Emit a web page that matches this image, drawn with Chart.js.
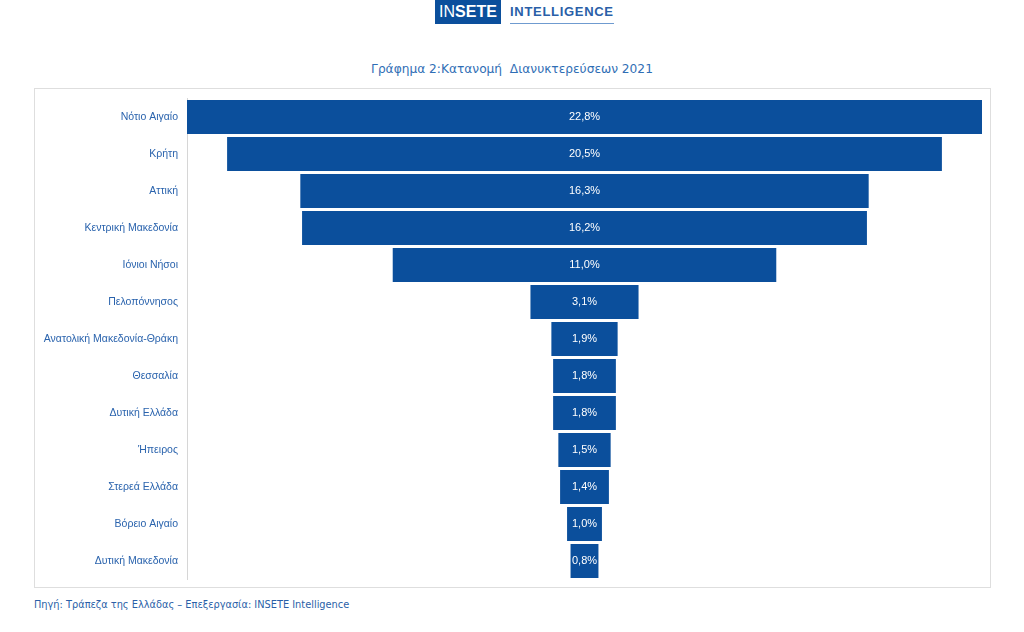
<!DOCTYPE html>
<html>
<head>
<meta charset="utf-8">
<script src="https://cdn.jsdelivr.net/npm/chart.js@4/dist/chart.umd.min.js"></script>
<style>
  body { margin: 0; background: #fff; width: 1024px; height: 632px; position: relative; overflow: hidden; font-family: "Liberation Sans", Arial, sans-serif; }
  #logo-box { position: absolute; left: 435px; top: 0; width: 66px; height: 24px; background: #0b4f9c; color: #fff; font-size: 16px; line-height: 24px; text-align: center; }
  #logo-box b { font-weight: bold; }
  #logo-text { position: absolute; left: 510px; top: 4px; color: #2a5fa8; font-size: 13px; font-weight: bold; letter-spacing: 0.7px; }
  #logo-line { position: absolute; left: 510px; top: 23px; width: 104px; height: 1px; background: #6f9bd0; }
  #titel { position: absolute; left: 0; width: 1024px; top: 62px; text-align: center; color: #2f6eb5; font-family: "DejaVu Sans", sans-serif; font-size: 12.2px; }
  #rahmen { position: absolute; left: 34px; top: 88px; width: 955px; height: 498px; border: 1px solid #dedede; }
  #rahmen canvas { position: absolute; left: 0; top: 0; }
  #quelle { position: absolute; left: 34px; top: 599px; color: #2a5fa8; font-family: "DejaVu Sans", sans-serif; font-size: 9.8px; }
</style>
</head>
<body>
<div id="logo-box">IN<b>SETE</b></div>
<div id="logo-text">INTELLIGENCE</div>
<div id="logo-line"></div>
<div id="titel">Γράφημα 2:Κατανομή&nbsp;&nbsp;Διανυκτερεύσεων 2021</div>
<div id="rahmen"><canvas id="funnel"></canvas></div>
<div id="quelle">Πηγή: Τράπεζα της Ελλάδας – Επεξεργασία: INSETE Intelligence</div>
<script>
// Daten: Regionen und Anteil an den Übernachtungen (%)
const regionen = [
  'Νότιο Αιγαίο', 'Κρήτη', 'Αττική', 'Κεντρική Μακεδονία', 'Ιόνιοι Νήσοι',
  'Πελοπόννησος', 'Ανατολική Μακεδονία-Θράκη', 'Θεσσαλία', 'Δυτική Ελλάδα',
  'Ήπειρος', 'Στερεά Ελλάδα', 'Βόρειο Αιγαίο', 'Δυτική Μακεδονία'
];
const anteile = [22.8, 20.5, 16.3, 16.2, 11.0, 3.1, 1.9, 1.8, 1.8, 1.5, 1.4, 1.0, 0.8];

const blau = '#0b4f9c';
const halb = Math.max(...anteile) / 2;

function format(wert) {
  return wert.toFixed(1).replace('.', ',') + '%';
}

// Plugin: Prozentwerte mittig in die Balken schreiben
const werteLabels = {
  id: 'werteLabels',
  afterDatasetsDraw: function (chart) {
    const ctx = chart.ctx;
    const meta = chart.getDatasetMeta(0);
    const mitte = chart.scales.x.getPixelForValue(0);
    ctx.save();
    ctx.fillStyle = '#ffffff';
    ctx.font = '11px "Liberation Sans", Arial, sans-serif';
    ctx.textAlign = 'center';
    ctx.textBaseline = 'middle';
    meta.data.forEach(function (balken, i) {
      ctx.fillText(format(anteile[i]), mitte, balken.y);
    });
    ctx.restore();
  }
};

const canvas = document.querySelector('#funnel');
canvas.width = 955;
canvas.height = 498;

new Chart(canvas, {
  type: 'bar',
  data: {
    labels: regionen,
    datasets: [{
      data: anteile.map(function (v) { return [-v / 2, v / 2]; }),
      backgroundColor: blau,
      borderWidth: 0,
      borderSkipped: false,
      barPercentage: 0.92,
      categoryPercentage: 1.0
    }]
  },
  options: {
    indexAxis: 'y',
    responsive: false,
    animation: false,
    layout: { autoPadding: false, padding: { top: 9.5, bottom: 7.5, right: 8, left: 0 } },
    scales: {
      x: {
        display: false,
        min: -halb,
        max: halb
      },
      y: {
        grid: { display: false, drawTicks: false },
        border: { display: true, color: '#d6d6d6', width: 1 },
        ticks: {
          color: '#2a63ad',
          padding: 9,
          font: { size: 10.5, family: '"Liberation Sans", Arial, sans-serif' }
        },
        afterFit: function (scale) {
          scale.width = 152;
          scale.paddingTop = 0;
          scale.paddingBottom = 0;
        }
      }
    },
    plugins: {
      legend: { display: false },
      tooltip: { enabled: false }
    }
  },
  plugins: [werteLabels]
});
</script>
</body>
</html>
